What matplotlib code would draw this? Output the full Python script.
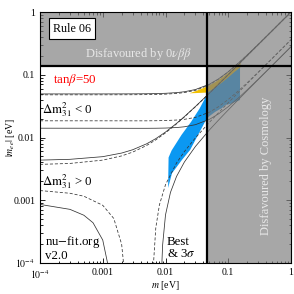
import matplotlib
matplotlib.use('Agg')
import matplotlib.pyplot as plt
from matplotlib.ticker import FixedLocator, FixedFormatter, LogLocator, NullFormatter

plt.rcParams['font.family'] = 'serif'
plt.rcParams['font.serif'] = ['Liberation Serif', 'DejaVu Serif']
plt.rcParams['mathtext.fontset'] = 'stix'

# lightest neutrino mass [eV]
m_grid = [1e-4, 3e-4, 1e-3, 2e-3, 3e-3, 5e-3, 7e-3, 0.01, 0.015, 0.02, 0.03,
          0.05, 0.07, 0.1, 0.15, 0.2, 0.3, 0.5, 1.0]

# |m_ee| envelopes, best fit (dashed) and 3 sigma (solid)
nh_up_best = [0.00373, 0.00386, 0.00436, 0.00509, 0.00585, 0.00746, 0.00917, 0.01185,
              0.01649, 0.02126, 0.03097, 0.05066, 0.07051, 0.10036, 0.1503, 0.2002,
              0.3001, 0.5001, 1.0]
nh_up_3s = [0.00436, 0.00449, 0.00495, 0.00565, 0.00638, 0.00793, 0.00959, 0.01221,
            0.01679, 0.02152, 0.03117, 0.0508, 0.07062, 0.10045, 0.1503, 0.2003,
            0.3002, 0.5002, 1.0]
ih_up_best = [0.04788, 0.04788, 0.04791, 0.04797, 0.04804, 0.04824, 0.04852, 0.04909,
              0.05036, 0.05202, 0.05641, 0.06912, 0.08493, 0.11117, 0.15762, 0.2058,
              0.30389, 0.50236, 1.0012]
ih_up_3s = [0.04949, 0.04949, 0.04951, 0.04956, 0.04963, 0.04983, 0.05009, 0.05064,
            0.05191, 0.05361, 0.05815, 0.07063, 0.08597, 0.11178, 0.1581, 0.20614,
            0.30413, 0.5025, 1.0013]
ih_lo_best = [0.01845, 0.01845, 0.01845, 0.01844, 0.01843, 0.01844, 0.0185, 0.01863,
              0.01898, 0.01948, 0.02092, 0.0253, 0.03095, 0.04037, 0.05709, 0.07454,
              0.10993, 0.18165, 0.36196]
ih_lo_3s = [0.01407, 0.01406, 0.01405, 0.01403, 0.01402, 0.01402, 0.01405, 0.01414,
            0.01441, 0.01482, 0.01601, 0.01946, 0.02376, 0.0310, 0.04398, 0.05742,
            0.0848, 0.14018, 0.27939]

# normal hierarchy lower bound, falls to zero in between
nh_lo_best_m1 = [1e-4, 3e-4, 5e-4, 1e-3, 1.5e-3, 2e-3, 2.2e-3, 2.3e-3, 2.33e-3]
nh_lo_best_1 = [0.001427, 0.001292, 0.00116, 0.000831, 0.000512, 0.000199, 7.7e-5, 1.7e-5, 1e-6]
nh_lo_best_m2 = [6.3e-3, 6.5e-3, 7e-3, 8e-3, 0.01, 0.015, 0.02, 0.03, 0.05, 0.07, 0.1,
                 0.15, 0.2, 0.3, 0.5, 1.0]
nh_lo_best_2 = [1.4e-5, 1.14e-4, 3.62e-4, 8.46e-4, 1.77e-3, 3.93e-3, 5.97e-3, 9.88e-3,
                0.01742, 0.0248, 0.0358, 0.05399, 0.07213, 0.10836, 0.18075, 0.3616]
nh_lo_3s_m1 = [1e-4, 3e-4, 5e-4, 7e-4, 1e-3, 1.2e-3, 1.3e-3, 1.34e-3]
nh_lo_3s_1 = [8.58e-4, 7.16e-4, 5.77e-4, 4.38e-4, 2.32e-4, 9.7e-5, 3.0e-5, 1e-6]
nh_lo_3s_m2 = [8.6e-3, 8.8e-3, 9e-3, 0.01, 0.012, 0.015, 0.02, 0.03, 0.05, 0.07, 0.1,
               0.15, 0.2, 0.3, 0.5, 1.0]
nh_lo_3s_2 = [3.3e-5, 1.13e-4, 1.94e-4, 5.84e-4, 1.335e-3, 2.399e-3, 4.066e-3, 7.206e-3,
              0.013163, 0.018926, 0.027473, 0.041573, 0.055611, 0.083608, 0.139508, 0.2792]

# model region (blue) and tan(beta)=50 band (gold)
blue_m = [0.0110, 0.0112, 0.0125, 0.0180, 0.0255, 0.0350, 0.0455, 0.046, 0.06, 0.08,
          0.10, 0.125, 0.154, 0.154, 0.130, 0.107, 0.090, 0.0794, 0.0615, 0.046,
          0.0246, 0.0183, 0.0127]
blue_mee = [0.00157, 0.0048, 0.0062, 0.0110, 0.0177, 0.0290, 0.0476, 0.053, 0.063, 0.078,
            0.094, 0.114, 0.134, 0.0396, 0.037, 0.0342, 0.033, 0.0295, 0.0255, 0.0205,
            0.0063, 0.0044, 0.0027]
gold_m = [0.024, 0.03, 0.037, 0.046, 0.06, 0.08, 0.10, 0.125, 0.154]
gold_top = [0.0518, 0.0561, 0.0610, 0.0667, 0.0771, 0.0935, 0.1112, 0.1340, 0.1615]
gold_bot = [0.0516, 0.0520, 0.0525, 0.0530, 0.0630, 0.0780, 0.0940, 0.1140, 0.1340]

cosmo_bound = 0.046
dbd_bound = 0.138
lim = [1e-4, 1.0]

tick_vals = [1e-4, 1e-3, 1e-2, 0.1, 1]
tick_labels = [r'$10^{-4}$', '0.001', '0.01', '0.1', '1']

fig = plt.figure(figsize=(2.94, 2.94), dpi=100)
ax = fig.add_axes([40/294, 31/294, 251/294, 251/294])
ax.set_xscale('log')
ax.set_yscale('log')
ax.set_xlim(lim)
ax.set_ylim(lim)

ax.fill(blue_m, blue_mee, color='#0b98f2', lw=0, zorder=1)
ax.fill_between(gold_m, gold_bot, gold_top, color='#f2c000', lw=0, zorder=1)

lc = '0.2'
dash = (0, (4, 2.5))
for y in [nh_up_3s, ih_up_3s, ih_lo_3s]:
    ax.plot(m_grid, y, color=lc, lw=0.55, zorder=2)
for y in [nh_up_best, ih_up_best, ih_lo_best]:
    ax.plot(m_grid, y, color=lc, lw=0.55, ls=dash, zorder=2)
ax.plot(nh_lo_3s_m1, nh_lo_3s_1, color=lc, lw=0.55, zorder=2)
ax.plot(nh_lo_3s_m2, nh_lo_3s_2, color=lc, lw=0.55, zorder=2)
ax.plot(nh_lo_best_m1, nh_lo_best_1, color=lc, lw=0.55, ls=dash, zorder=2)
ax.plot(nh_lo_best_m2, nh_lo_best_2, color=lc, lw=0.55, ls=dash, zorder=2)

# disfavoured regions laid over everything
ax.fill([lim[0], cosmo_bound, cosmo_bound, lim[1], lim[1], lim[0]],
        [dbd_bound, dbd_bound, lim[0], lim[0], lim[1], lim[1]],
        color='#7d7d7d', alpha=0.68, lw=0, zorder=3)
ax.axhline(dbd_bound, color='k', lw=1.6, zorder=4)
ax.axvline(cosmo_bound, color='k', lw=1.6, zorder=4)

ax.text(0.127, 0.934, 'Rule 06', transform=ax.transAxes, fontsize=8.7,
        ha='center', va='center', zorder=5,
        bbox=dict(boxstyle='square,pad=0.35', fc='white', ec='k', lw=0.8))
ax.text(0.392, 0.833, r'Disfavoured by 0$\nu\beta\beta$', transform=ax.transAxes,
        fontsize=9, color='#e8e8e8', ha='center', va='center', zorder=5)
ax.text(0.90, 0.386, 'Disfavoured by Cosmology', transform=ax.transAxes, rotation=90,
        fontsize=9, color='#e8e8e8', ha='center', va='center', zorder=5)
ax.text(0.052, 0.729, r'tan$\beta$=50', transform=ax.transAxes, fontsize=9.3,
        color='red', ha='left', va='center', zorder=5)
ax.text(0.008, 0.61, r'$\Delta\mathrm{m}^2_{31}$ < 0', transform=ax.transAxes,
        fontsize=9.3, ha='left', va='center', zorder=5)
ax.text(0.008, 0.323, r'$\Delta\mathrm{m}^2_{31}$ > 0', transform=ax.transAxes,
        fontsize=9.3, ha='left', va='center', zorder=5)
ax.text(0.02, 0.06, 'nu$-$fit.org\nv2.0', transform=ax.transAxes, fontsize=9.3,
        ha='left', va='center', linespacing=0.95, zorder=5)
ax.text(0.506, 0.06, 'Best\n& 3$\\sigma$', transform=ax.transAxes, fontsize=9.3,
        ha='left', va='center', linespacing=0.95, zorder=5)

for axis in [ax.xaxis, ax.yaxis]:
    axis.set_major_locator(FixedLocator(tick_vals))
    axis.set_major_formatter(FixedFormatter(tick_labels))
    axis.set_minor_locator(LogLocator(base=10, subs=range(2, 10)))
    axis.set_minor_formatter(NullFormatter())
ax.tick_params(which='both', direction='in', top=True, right=True, labelsize=7, width=0.6)
ax.tick_params(which='major', length=3.5)
ax.tick_params(which='minor', length=1.8)
for s in ax.spines.values():
    s.set_linewidth(0.8)
    s.set_zorder(6)

ax.set_xlabel(r'$m$ [eV]', fontsize=7)
ax.set_ylabel(r'$|m_{ee}|$ [eV]', fontsize=7)
ax.xaxis.set_label_coords(0.5, -0.062)
ax.yaxis.set_label_coords(-0.09, 0.5)

fig.savefig('out.png', dpi=100)
